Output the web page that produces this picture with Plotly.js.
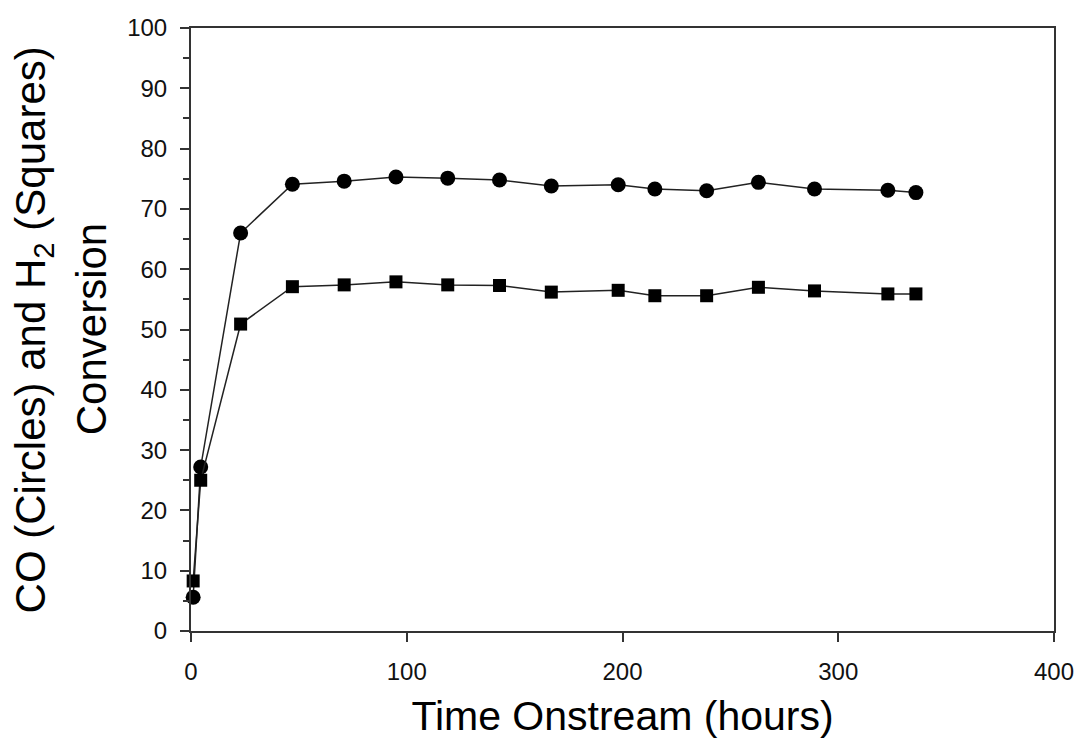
<!DOCTYPE html>
<html>
<head>
<meta charset="utf-8">
<script src="https://cdn.plot.ly/plotly-3.0.1.min.js"></script>
<style>html,body{margin:0;padding:0;background:#fff;}</style>
</head>
<body>
<div id="chart" style="width:1081px;height:746px;"></div>
<script>
const hours = [1, 4.5, 23, 47, 71, 95, 119, 143, 167, 198, 215, 239, 263, 289, 323, 336];
const coConversion = [5.6, 27.2, 66.0, 74.1, 74.6, 75.3, 75.1, 74.8, 73.8, 74.0, 73.3, 73.0, 74.4, 73.3, 73.1, 72.7];
const h2Conversion = [8.3, 25.0, 50.9, 57.1, 57.4, 57.9, 57.4, 57.3, 56.2, 56.5, 55.6, 55.6, 57.0, 56.4, 55.9, 55.9];
const xTitle = 'Time Onstream (hours)';
const yTitleLine1 = 'CO (Circles) and H<sub>2</sub> (Squares)';
const yTitleLine2 = 'Conversion';

const FONT = 'Liberation Sans, Arial, sans-serif';

const traces = [
  {
    x: hours, y: coConversion, type: 'scatter', mode: 'lines+markers', name: 'CO',
    line: {color: '#222', width: 1.5},
    marker: {symbol: 'circle', size: 15, color: '#000'},
    cliponaxis: false
  },
  {
    x: hours, y: h2Conversion, type: 'scatter', mode: 'lines+markers', name: 'H2',
    line: {color: '#222', width: 1.5},
    marker: {symbol: 'square', size: 13, color: '#000'},
    cliponaxis: false
  }
];

const layout = {
  width: 1081, height: 746,
  margin: {l: 191, r: 27, t: 28, b: 115},
  paper_bgcolor: '#fff', plot_bgcolor: '#fff',
  showlegend: false,
  font: {family: FONT, color: '#000'},
  xaxis: {
    range: [0, 400], tickvals: [0, 100, 200, 300, 400],
    showgrid: false, zeroline: false,
    showline: true, linecolor: '#333', linewidth: 2, mirror: true,
    ticks: 'outside', ticklen: 9, tickwidth: 2, tickcolor: '#333',
    tickfont: {size: 24, family: FONT, color: '#111'},
    ticklabelstandoff: 9,
    title: {text: xTitle, font: {size: 41, family: FONT, color: '#000'}, standoff: 18}
  },
  yaxis: {
    range: [0, 100], tickvals: [0,10,20,30,40,50,60,70,80,90,100],
    showgrid: false, zeroline: false,
    showline: true, linecolor: '#333', linewidth: 2, mirror: true,
    ticks: 'outside', ticklen: 9, tickwidth: 2, tickcolor: '#333',
    minor: {tickvals: [5,15,25,35,45,55,65,75,85,95], ticks: 'outside', ticklen: 6, tickwidth: 2, tickcolor: '#333', showgrid: false},
    tickfont: {size: 24, family: FONT, color: '#111'},
    ticklabelstandoff: 8
  },
  annotations: [
    {text: yTitleLine1, xref: 'paper', yref: 'paper', x: -0.182, y: 0.5, xanchor: 'center', yanchor: 'middle',
     textangle: -90, showarrow: false, font: {size: 42, family: FONT, color: '#000'}},
    {text: yTitleLine2, xref: 'paper', yref: 'paper', x: -0.115, y: 0.5, xanchor: 'center', yanchor: 'middle',
     textangle: -90, showarrow: false, font: {size: 42, family: FONT, color: '#000'}}
  ]
};

Plotly.newPlot('chart', traces, layout, {displayModeBar: false, staticPlot: true});
</script>
</body>
</html>
